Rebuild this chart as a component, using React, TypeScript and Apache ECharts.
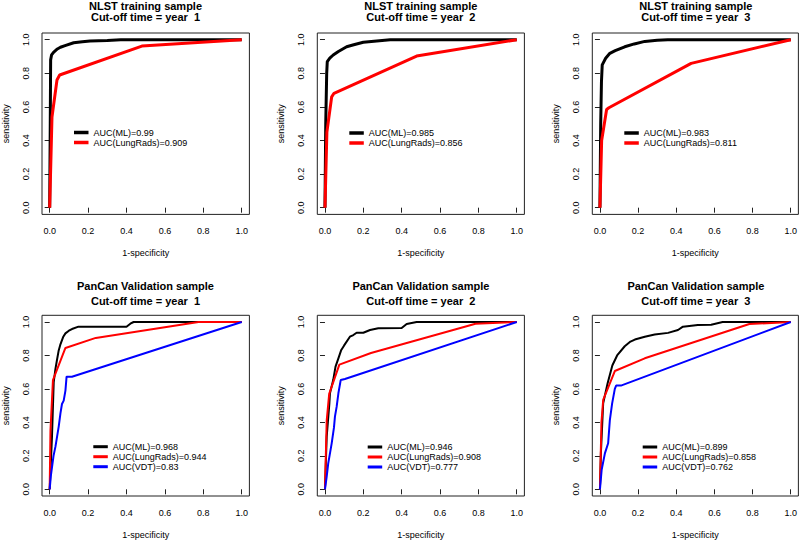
import React, { useEffect, useRef } from "react";
import * as echarts from "echarts";

// ---------- data ----------
const tickValues = [0, 0.2, 0.4, 0.6, 0.8, 1.0];

const titleLines = [
  "NLST training sample\nCut-off time = year  1",
  "NLST training sample\nCut-off time = year  2",
  "NLST training sample\nCut-off time = year  3",
  "PanCan Validation sample\nCut-off time = year  1",
  "PanCan Validation sample\nCut-off time = year  2",
  "PanCan Validation sample\nCut-off time = year  3",
];

const nlstY1ML = [[0,0],[0.003,0.5],[0.005,0.88],[0.01,0.91],[0.02,0.925],[0.04,0.945],[0.056,0.955],[0.08,0.965],[0.125,0.982],[0.17,0.988],[0.21,0.993],[0.3,0.996],[0.37,1],[1,1]];
const nlstY1LR = [[0,0],[0.012,0.54],[0.038,0.76],[0.052,0.79],[0.48,0.962],[1,1]];

const nlstY2ML = [[0,0],[0.004,0.5],[0.009,0.8],[0.012,0.87],[0.025,0.89],[0.043,0.909],[0.07,0.93],[0.113,0.958],[0.15,0.97],[0.2,0.985],[0.27,0.993],[0.34,1],[1,1]];
const nlstY2LR = [[0,0],[0.01,0.45],[0.035,0.66],[0.047,0.681],[0.478,0.903],[1,1]];

const nlstY3ML = [[0,0],[0.004,0.5],[0.008,0.75],[0.012,0.85],[0.03,0.89],[0.052,0.919],[0.08,0.935],[0.13,0.958],[0.18,0.975],[0.235,0.99],[0.3,0.997],[0.355,1],[1,1]];
const nlstY3LR = [[0,0],[0.009,0.4],[0.035,0.585],[0.047,0.595],[0.478,0.859],[1,1]];

const panY1ML = [[0,0],[0.012,0.315],[0.021,0.64],[0.03,0.72],[0.038,0.773],[0.047,0.83],[0.055,0.863],[0.07,0.91],[0.082,0.932],[0.1,0.948],[0.116,0.958],[0.15,0.972],[0.4,0.972],[0.42,0.99],[0.437,1],[1,1]];
const panY1LR = [[0,0],[0.004,0.35],[0.017,0.653],[0.082,0.845],[0.24,0.905],[0.775,1],[1,1]];
const panY1VDT = [[0,0],[0.006,0.08],[0.02,0.2],[0.03,0.255],[0.047,0.375],[0.056,0.454],[0.064,0.51],[0.073,0.53],[0.082,0.59],[0.088,0.673],[0.116,0.673],[1,1]];

const panY2ML = [[0,0],[0.009,0.315],[0.023,0.514],[0.026,0.574],[0.043,0.653],[0.055,0.733],[0.07,0.783],[0.085,0.833],[0.1,0.86],[0.13,0.912],[0.148,0.922],[0.165,0.936],[0.2,0.936],[0.235,0.952],[0.278,0.962],[0.4,0.964],[0.426,0.988],[0.478,1],[1,1]];
const panY2LR = [[0,0],[0.009,0.41],[0.022,0.57],[0.075,0.745],[0.24,0.815],[0.785,0.99],[1,1]];
const panY2VDT = [[0,0],[0.009,0.076],[0.017,0.155],[0.035,0.275],[0.047,0.37],[0.052,0.434],[0.061,0.494],[0.07,0.574],[0.082,0.653],[0.104,0.659],[1,1]];

const panY3ML = [[0,0],[0.005,0.215],[0.017,0.514],[0.04,0.633],[0.065,0.74],[0.09,0.8],[0.13,0.855],[0.16,0.883],[0.183,0.895],[0.235,0.912],[0.287,0.925],[0.357,0.935],[0.409,0.952],[0.435,0.972],[0.513,0.982],[0.583,0.984],[0.643,1],[1,1]];
const panY3LR = [[0,0],[0.008,0.4],[0.017,0.534],[0.078,0.707],[0.235,0.783],[0.783,0.988],[1,1]];
const panY3VDT = [[0,0],[0.009,0.116],[0.026,0.215],[0.043,0.275],[0.052,0.414],[0.064,0.514],[0.078,0.6],[0.085,0.62],[0.11,0.62],[1,1]];

const curves = [
  [{ name: "AUC(ML)=0.99", data: nlstY1ML, color: "#000000" }, { name: "AUC(LungRads)=0.909", data: nlstY1LR, color: "#FF0000" }],
  [{ name: "AUC(ML)=0.985", data: nlstY2ML, color: "#000000" }, { name: "AUC(LungRads)=0.856", data: nlstY2LR, color: "#FF0000" }],
  [{ name: "AUC(ML)=0.983", data: nlstY3ML, color: "#000000" }, { name: "AUC(LungRads)=0.811", data: nlstY3LR, color: "#FF0000" }],
  [{ name: "AUC(ML)=0.968", data: panY1ML, color: "#000000" }, { name: "AUC(LungRads)=0.944", data: panY1LR, color: "#FF0000" }, { name: "AUC(VDT)=0.83", data: panY1VDT, color: "#0000FF" }],
  [{ name: "AUC(ML)=0.946", data: panY2ML, color: "#000000" }, { name: "AUC(LungRads)=0.908", data: panY2LR, color: "#FF0000" }, { name: "AUC(VDT)=0.777", data: panY2VDT, color: "#0000FF" }],
  [{ name: "AUC(ML)=0.899", data: panY3ML, color: "#000000" }, { name: "AUC(LungRads)=0.858", data: panY3LR, color: "#FF0000" }, { name: "AUC(VDT)=0.762", data: panY3VDT, color: "#0000FF" }],
];

// ---------- layout ----------
const boxes = [
  { l: 41.6, t: 33, r: 249.4, b: 214.4, legL: 74, legT: 127.5, titleT: 0, titleLH: 11.5, lw: 3, legH: 3.5 },
  { l: 317.3, t: 33, r: 524.4, b: 214.4, legL: 349.3, legT: 128, titleT: 0, titleLH: 11.5, lw: 3, legH: 3.5 },
  { l: 592.3, t: 33, r: 799.4, b: 214.4, legL: 624.3, legT: 128, titleT: 0, titleLH: 11.5, lw: 3, legH: 3.5 },
  { l: 41.6, t: 315.3, r: 249.4, b: 496, legL: 93.3, legT: 441.7, titleT: 278.7, titleLH: 14.6, lw: 2, legH: 3 },
  { l: 317.3, t: 315.3, r: 524.4, b: 496, legL: 367.7, legT: 442, titleT: 278.7, titleLH: 14.6, lw: 2, legH: 3 },
  { l: 592.3, t: 315.3, r: 799.4, b: 496, legL: 642.7, legT: 442, titleT: 278.7, titleLH: 14.6, lw: 2, legH: 3 },
];

const FONT = "'Liberation Sans', Arial, Helvetica, sans-serif";

export default function App() {
  const ref = useRef<HTMLDivElement>(null);
  useEffect(() => {
    document.body.style.margin = "0";
    const chart = echarts.init(ref.current as HTMLDivElement, null, { renderer: "svg" });
    const fmt = (v: number) => v.toFixed(1);
    const option: any = {
      animation: false,
      backgroundColor: "#ffffff",
      title: boxes.map((b, i) => ({
        text: titleLines[i],
        left: (b.l + b.r) / 2,
        top: b.titleT,
        textAlign: "center",
        padding: 0,
        textStyle: { fontSize: 11, fontWeight: "bold", color: "#000", fontFamily: FONT, lineHeight: b.titleLH },
      })),
      grid: boxes.map((b) => ({
        left: b.l, top: b.t, width: b.r - b.l, height: b.b - b.t,
        show: true, borderColor: "#222", borderWidth: 1, backgroundColor: "transparent",
      })),
      xAxis: boxes.map((b, i) => ({
        type: "value", gridIndex: i, min: -0.04, max: 1.04,
        axisLine: { show: false }, splitLine: { show: false },
        axisTick: { show: true, customValues: tickValues, length: 5, lineStyle: { color: "#222" } },
        axisLabel: { customValues: tickValues, formatter: fmt, margin: 12, fontSize: 9, color: "#000", fontFamily: FONT },
        name: "1-specificity", nameLocation: "middle", nameGap: 34,
        nameTextStyle: { fontSize: 9, color: "#000", fontFamily: FONT },
      })),
      yAxis: boxes.map((b, i) => ({
        type: "value", gridIndex: i, min: -0.04, max: 1.04,
        axisLine: { show: false }, splitLine: { show: false },
        axisTick: { show: true, customValues: tickValues, length: 5, lineStyle: { color: "#222" } },
        axisLabel: { customValues: tickValues, formatter: fmt, margin: 12, rotate: 90, fontSize: 9, color: "#000", fontFamily: FONT },
        name: "sensitivity", nameLocation: "middle", nameGap: 32, nameRotate: 90,
        nameTextStyle: { fontSize: 9, color: "#000", fontFamily: FONT },
      })),
      legend: boxes.map((b, i) => ({
        data: curves[i].map((c) => c.name),
        orient: "vertical", left: b.legL, top: b.legT, padding: 0, itemGap: 0,
        itemWidth: 14.5, itemHeight: b.legH, icon: "rect", selectedMode: false,
        textStyle: { fontSize: 9, lineHeight: 10, color: "#000", fontFamily: FONT },
      })),
      series: curves.flatMap((set, i) =>
        set.map((c) => ({
          type: "line", name: c.name, xAxisIndex: i, yAxisIndex: i,
          data: c.data, showSymbol: false, symbol: "none",
          itemStyle: { color: c.color },
          lineStyle: { color: c.color, width: boxes[i].lw },
        }))
      ),
    };
    chart.setOption(option);
    return () => chart.dispose();
  }, []);
  return <div ref={ref} style={{ width: 800, height: 540, position: "absolute", left: 0, top: 0 }} />;
}
